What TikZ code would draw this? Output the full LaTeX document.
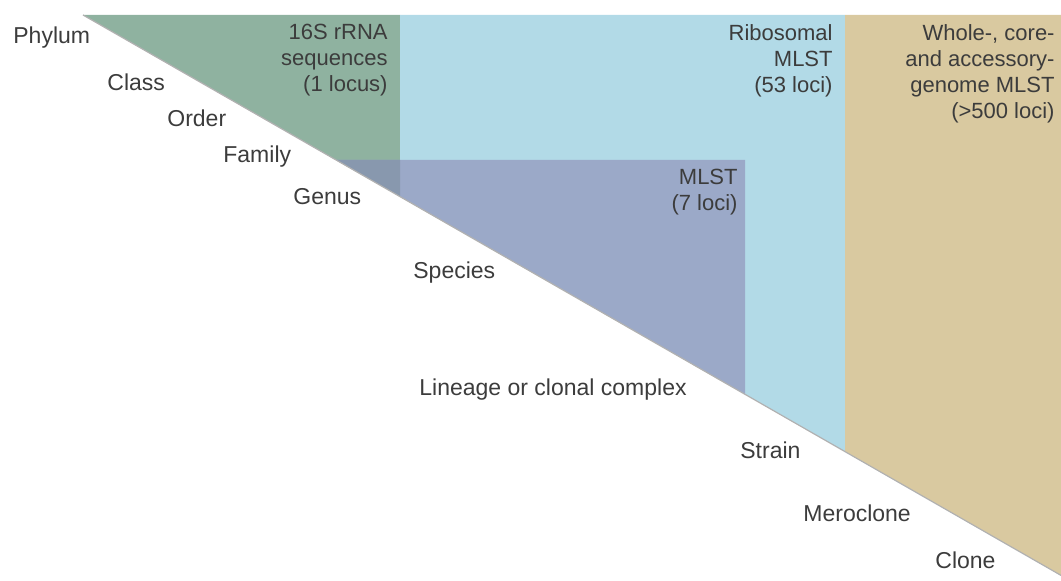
\documentclass[tikz,border=0pt]{standalone}
\usepackage{fontspec}
\setmainfont{Liberation Sans}
\definecolor{rnagreen}{RGB}{143,178,160}
\definecolor{ribblue}{RGB}{178,218,231}
\definecolor{mlstblue}{RGB}{155,169,200}
\definecolor{overlapblue}{RGB}{136,152,174}
\definecolor{wgsbeige}{RGB}{217,201,160}
\definecolor{labelgrey}{RGB}{60,60,60}
\tikzset{
    rank/.style={anchor=west, inner sep=0pt, text=labelgrey,
        font=\fontsize{11.5}{13}\selectfont},
    method/.style={anchor=north east, inner sep=0pt, align=right,
        text=labelgrey, font=\fontsize{11}{13}\selectfont}
}
\begin{document}
\begin{tikzpicture}[x=0.5pt,y=-0.5pt]
        \useasboundingbox (0,0) rectangle (1061,581);
        % Fill the regions above the diagonal
        \fill[rnagreen] (83,15) -- (400,15) -- (400,196.6) -- cycle;
        \fill[ribblue] (400,15) -- (845,15) -- (845,451.6) -- (400,196.6) -- cycle;
        \fill[wgsbeige] (845,15) -- (1061,15) -- (1061,575.4) -- (845,451.6) -- cycle;
        \fill[mlstblue] (336,160) -- (745,160) -- (745,394.3) -- cycle;
        \fill[overlapblue] (336,160) -- (400,160) -- (400,196.6) -- cycle;
        % Soft edge along the diagonal
        \draw[labelgrey!40, line width=0.6pt] (83,15) -- (1061,575.4);
        % Label the taxonomic ranks
        \draw (13,38)   node[rank] (phylum)  {Phylum};
        \draw (107,82)  node[rank] (class)   {Class};
        \draw (167,118) node[rank] (order)   {Order};
        \draw (223,157) node[rank] (family)  {Family};
        \draw (293,197) node[rank] (genus)   {Genus};
        \draw (413,273) node[rank] (species) {Species};
        \draw (419,390) node[rank] (lineage) {Lineage or clonal complex};
        \draw (740,450) node[rank] (strain)  {Strain};
        \draw (803,513) node[rank] (meroclone) {Meroclone};
        \draw (935,560) node[rank] (clone)   {Clone};
        % Label the typing methods
        \draw (388,24)  node[method] (rrna) {16S rRNA\\sequences\\(1 locus)};
        \draw (833,24)  node[method] (rmlst) {Ribosomal\\MLST\\(53 loci)};
        \draw (1055,24) node[method] (wgmlst) {Whole-, core-\\and accessory-\\genome MLST\\(>500 loci)};
        \draw (738,169) node[method] (mlst) {MLST\\(7 loci)};
    \end{tikzpicture}
\end{document}
